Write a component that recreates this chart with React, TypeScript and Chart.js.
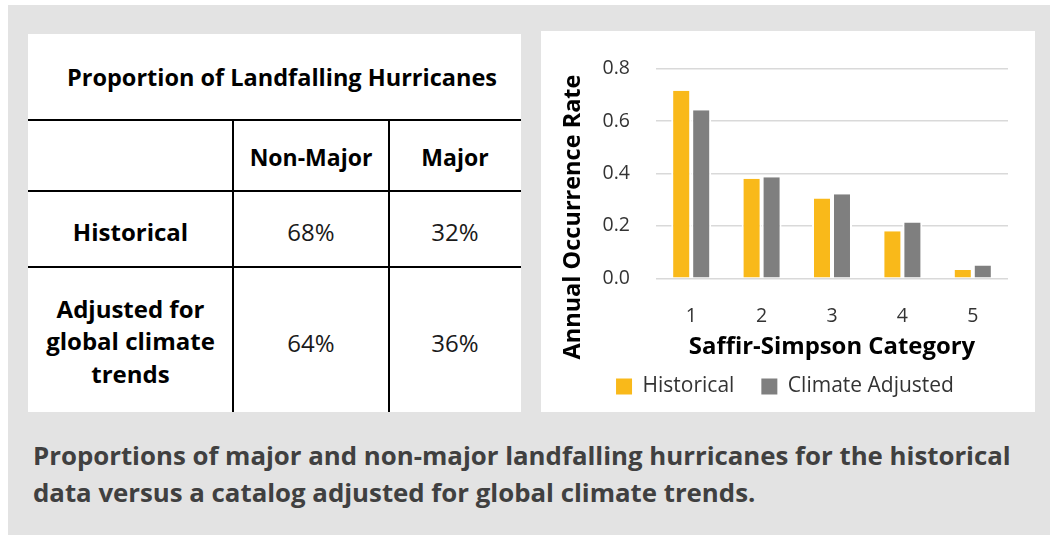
import React, { useEffect, useRef } from "react";
import { Chart, registerables } from "chart.js";

Chart.register(...registerables);

// ---- chart data ----
const categories = ["1", "2", "3", "4", "5"];
const historical = [0.716, 0.38, 0.305, 0.18, 0.032];
const climateAdjusted = [0.641, 0.386, 0.321, 0.213, 0.049];
const yTicks = [0, 0.2, 0.4, 0.6, 0.8];
const seriesNames = ["Historical", "Climate Adjusted"];

// ---- table data ----
const tableTitle = "Proportion of Landfalling Hurricanes";
const tableColumns = ["Non-Major", "Major"];
const tableRowLabels = [["Historical"], ["Adjusted for", "global climate", "trends"]];
const nonMajorShare = ["68%", "64%"];
const majorShare = ["32%", "36%"];

const captionLines = [
  "Proportions of major and non-major landfalling hurricanes for the historical",
  "data versus a catalog adjusted for global climate trends.",
];

const FONT = "'Open Sans', 'Noto Sans', sans-serif";
const YELLOW = "#F9B91A";
const GREY = "#7F7F7F";
const TICK_COLOR = "#333333";

// rotated y-axis title drawn on the canvas
const yTitlePlugin = {
  id: "yAxisTitle",
  afterDraw(chart: any) {
    const { ctx } = chart;
    ctx.save();
    ctx.translate(32, 186);
    ctx.rotate(-Math.PI / 2);
    ctx.font = `bold 23.5px ${FONT}`;
    ctx.fillStyle = "#000";
    ctx.textAlign = "center";
    ctx.textBaseline = "middle";
    ctx.fillText("Annual Occurrence Rate", 0, 0);
    ctx.restore();
  },
};

function BarChart() {
  const ref = useRef<HTMLCanvasElement | null>(null);

  useEffect(() => {
    if (!ref.current) return;
    Chart.defaults.font.family = FONT;
    const barStyle = {
      borderColor: "#ffffff",
      borderWidth: { left: 2, right: 2, top: 0, bottom: 0 },
      borderSkipped: false as const,
    };
    const chart = new Chart(ref.current, {
      type: "bar",
      data: {
        labels: categories,
        datasets: [
          { label: seriesNames[0], data: historical, backgroundColor: YELLOW, ...barStyle },
          { label: seriesNames[1], data: climateAdjusted, backgroundColor: GREY, ...barStyle },
        ],
      },
      plugins: [yTitlePlugin],
      options: {
        responsive: false,
        animation: false,
        layout: { padding: { left: 21, right: 27, top: 33.3, bottom: 5 } },
        datasets: { bar: { categoryPercentage: 0.568, barPercentage: 1 } },
        scales: {
          x: {
            grid: { display: false },
            border: { display: false },
            ticks: { font: { size: 19.5 }, color: TICK_COLOR, padding: 18 },
            title: {
              display: true,
              text: "Saffir-Simpson Category",
              font: { size: 23.9, weight: "bold" },
              color: "#000",
              padding: { top: 0, bottom: -12.2 },
            },
            afterFit: (s: any) => {
              s.height = 70.7;
            },
          },
          y: {
            min: 0,
            max: 0.8,
            afterBuildTicks: (s: any) => {
              s.ticks = yTicks.map((v) => ({ value: v }));
            },
            ticks: {
              font: { size: 19.5 },
              color: TICK_COLOR,
              padding: 26,
              callback: (v: any) => Number(v).toFixed(1),
            },
            grid: { color: "#d9d9d9", lineWidth: 1.5, drawTicks: false },
            border: { display: false },
            afterFit: (s: any) => {
              s.width = 94;
            },
          },
        },
        plugins: {
          tooltip: { enabled: false },
          legend: {
            position: "bottom",
            labels: {
              boxWidth: 16,
              boxHeight: 16,
              padding: 27,
              font: { size: 21 },
              color: TICK_COLOR,
              generateLabels: (c: any) =>
                Chart.defaults.plugins.legend.labels
                  .generateLabels(c)
                  .map((l: any) => ({ ...l, lineWidth: 0 })),
            },
          },
        },
      },
    });
    return () => chart.destroy();
  }, []);

  return <canvas ref={ref} width={494} height={381} style={{ display: "block" }} />;
}

function Text({
  x,
  y,
  size,
  bold,
  children,
  lineHeight,
}: {
  x: number;
  y: number;
  size: number;
  bold?: boolean;
  lineHeight?: number;
  children: React.ReactNode;
}) {
  return (
    <div
      style={{
        position: "absolute",
        left: x,
        top: y,
        transform: "translate(-50%, -50%)",
        fontFamily: FONT,
        fontSize: size,
        fontWeight: bold ? 700 : 400,
        lineHeight: lineHeight ? `${lineHeight}px` : 1.2,
        color: bold ? "#000" : "#1a1a1a",
        textAlign: "center",
        whiteSpace: "nowrap",
      }}
    >
      {children}
    </div>
  );
}

function Table() {
  const hLines = [120, 191, 267];
  const vLines = [233, 389];
  const rowCenters = [231.5, 341.5];
  const valueCenters = [231.5, 343];
  const colCenters = [130.5, 311, 455];
  return (
    <>
      <div style={{ position: "absolute", left: 28, top: 34, width: 493, height: 378, background: "#fff" }} />
      {hLines.map((y) => (
        <div key={"h" + y} style={{ position: "absolute", left: 28, top: y - 1.25, width: 493, height: 2.5, background: "#000" }} />
      ))}
      {vLines.map((x) => (
        <div key={"v" + x} style={{ position: "absolute", left: x - 1.25, top: 120, width: 2.5, height: 292, background: "#000" }} />
      ))}
      <Text x={282} y={77} size={23.5} bold>
        {tableTitle}
      </Text>
      {tableColumns.map((c, i) => (
        <Text key={c} x={colCenters[i + 1]} y={158} size={23} bold>
          {c}
        </Text>
      ))}
      {tableRowLabels.map((lines, i) => (
        <Text key={i} x={colCenters[0]} y={rowCenters[i]} size={24} bold lineHeight={32.5}>
          {lines.map((l, j) => (
            <div key={j}>{l}</div>
          ))}
        </Text>
      ))}
      {nonMajorShare.map((v, i) => (
        <Text key={"n" + i} x={colCenters[1]} y={valueCenters[i]} size={24}>
          {v}
        </Text>
      ))}
      {majorShare.map((v, i) => (
        <Text key={"m" + i} x={colCenters[2]} y={valueCenters[i]} size={24}>
          {v}
        </Text>
      ))}
    </>
  );
}

export default function App() {
  return (
    <div style={{ position: "absolute", left: 0, top: 0, width: 1050, height: 535, background: "#fff", overflow: "hidden" }}>
      <div style={{ position: "absolute", left: 8, top: 5, width: 1042, height: 530, background: "#e3e3e3" }} />
      <Table />
      <div style={{ position: "absolute", left: 541, top: 31, width: 494, height: 381, background: "#fff" }}>
        <BarChart />
      </div>
      <div
        style={{
          position: "absolute",
          left: 33,
          top: 437,
          fontFamily: FONT,
          fontWeight: 700,
          fontSize: 25.8,
          lineHeight: "37px",
          color: "#404040",
          whiteSpace: "nowrap",
        }}
      >
        {captionLines.map((l, i) => (
          <div key={i}>{l}</div>
        ))}
      </div>
    </div>
  );
}
